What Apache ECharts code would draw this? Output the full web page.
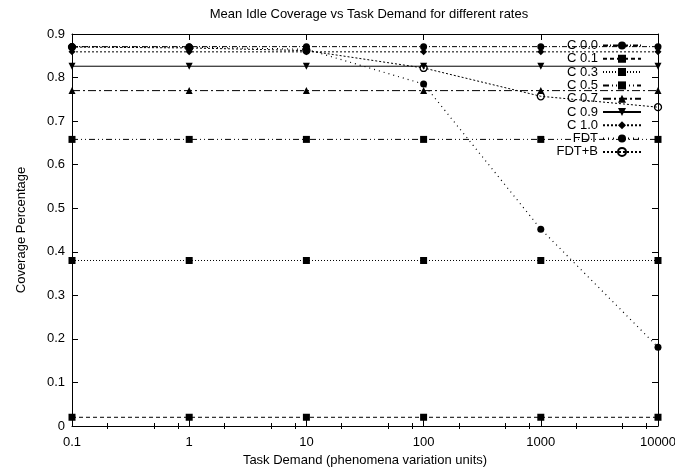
<!DOCTYPE html>
<html>
<head>
<meta charset="utf-8">
<script src="https://cdn.jsdelivr.net/npm/echarts@6/dist/echarts.min.js"></script>
<style>
  html, body { margin: 0; padding: 0; background: #fff; }
  #chart { width: 675px; height: 469px; }
</style>
</head>
<body>
<div id="chart"></div>
<script>
// Task demand values (phenomena variation units), log scale
const demand = [0.1, 1, 10, 100, 1000, 10000];

// Mean idle coverage per series
const c00 = [0.871, 0.871, 0.871, 0.871, 0.871, 0.871];
const c01 = [0.020, 0.020, 0.020, 0.020, 0.020, 0.020];
const c03 = [0.380, 0.380, 0.380, 0.380, 0.380, 0.380];
const c05 = [0.658, 0.658, 0.658, 0.658, 0.658, 0.658];
const c07 = [0.770, 0.770, 0.770, 0.770, 0.770, 0.770];
const c09 = [0.826, 0.826, 0.826, 0.826, 0.826, 0.826];
const c10 = [0.859, 0.859, 0.859, 0.859, 0.859, 0.859];
const fdt = [0.871, 0.870, 0.865, 0.785, 0.452, 0.181];
const fdtB = [0.870, 0.868, 0.862, 0.822, 0.757, 0.732];

const seriesNames = ['C 0.0', 'C 0.1', 'C 0.3', 'C 0.5', 'C 0.7', 'C 0.9', 'C 1.0', 'FDT', 'FDT+B'];
const yTicks = ['0', '0.1', '0.2', '0.3', '0.4', '0.5', '0.6', '0.7', '0.8', '0.9'];
// minor tick values inside each decade (2x, 5x, 8x)
const minorX = [0.2, 0.5, 0.8, 2, 5, 8, 20, 50, 80, 200, 500, 800, 2000, 5000, 8000];

const FONT = '"Liberation Sans", Arial, sans-serif';
const boxX = 'path://M0,0H10V10H0ZM1.5,0.5L5,4L8.5,0.5L9.5,1.5L6,5L9.5,8.5L8.5,9.5L5,6L1.5,9.5L0.5,8.5L4,5L0.5,1.5Z';

function pairs(vals) {
  return demand.map((d, i) => [d, vals[i]]);
}

function line(name, vals, dash, symbol, size, extra) {
  return Object.assign({
    name: name,
    type: 'line',
    data: pairs(vals),
    symbol: symbol,
    symbolSize: size,
    showSymbol: true,
    animation: false,
    lineStyle: { color: '#000', width: 1, type: dash },
    itemStyle: { color: '#000' }
  }, extra || {});
}

const series = [
  line('C 0.0', c00, [5, 2, 1, 2], 'circle', 7),
  line('C 0.1', c01, [4, 3], boxX, 7),
  line('C 0.3', c03, [1, 2], boxX, 7),
  line('C 0.5', c05, [6, 3, 1, 3, 1, 3], 'rect', 7),
  line('C 0.7', c07, [8, 3, 2, 3], 'triangle', 7),
  line('C 0.9', c09, 'solid', 'triangle', 7, { symbolRotate: 180 }),
  line('C 1.0', c10, [2, 2], 'diamond', 7),
  line('FDT', fdt, [1, 4], 'circle', 7, { lineStyle: { color: '#000', width: 1.2, type: [1, 4] } }),
  // open circles: outline only, so marks underneath stay visible
  line('FDT+B', fdtB, [2, 2], 'circle', 7,
    { itemStyle: { color: 'rgba(0,0,0,0)', borderColor: '#000', borderWidth: 1.3 } })
];

const axisLine = { show: true, onZero: false, lineStyle: { color: '#000', width: 1 } };
const axisTick = { show: true, inside: true, length: 6, lineStyle: { color: '#000' } };
const minorTick = {
  show: true, inside: true, length: 3, customValues: minorX,
  lineStyle: { color: '#000' }
};
const logBase = { type: 'log', logBase: 10, min: 0.1, max: 10000, splitLine: { show: false } };

const chart = echarts.init(document.getElementById('chart'), null, { renderer: 'canvas' });
chart.setOption({
  backgroundColor: '#fff',
  animation: false,
  title: {
    text: 'Mean Idle Coverage vs Task Demand for different rates',
    left: 364, top: 3, textAlign: 'center',
    textStyle: { fontFamily: FONT, fontSize: 13, fontWeight: 'normal', color: '#000' }
  },
  grid: { left: 72, right: 17, top: 34, bottom: 43, containLabel: false, outerBoundsMode: 'none' },
  legend: {
    orient: 'vertical',
    right: 28, top: 34,
    align: 'right',
    itemWidth: 38, itemHeight: 10, itemGap: 0.3,
    data: seriesNames,
    formatter: n => '{t|' + n + '}',
    textStyle: {
      fontFamily: FONT, fontSize: 13, color: '#000', lineHeight: 12,
      rich: { t: { width: 44, align: 'right', fontFamily: FONT, fontSize: 13, lineHeight: 12 } }
    }
  },
  xAxis: [
    Object.assign({}, logBase, {
      name: 'Task Demand (phenomena variation units)',
      nameLocation: 'middle', nameGap: 27,
      nameTextStyle: { fontFamily: FONT, fontSize: 13, color: '#000' },
      axisLine: axisLine, axisTick: axisTick,
      axisLabel: { fontFamily: FONT, fontSize: 13, color: '#000', margin: 10,
        formatter: v => String(v) }
    }),
    Object.assign({}, logBase, {
      position: 'top', axisLine: axisLine, axisTick: axisTick, axisLabel: { show: false }
    }),
    Object.assign({}, logBase, {
      position: 'bottom', axisLine: { show: false }, axisTick: minorTick, axisLabel: { show: false }
    }),
    Object.assign({}, logBase, {
      position: 'top', axisLine: { show: false }, axisTick: minorTick, axisLabel: { show: false }
    })
  ],
  yAxis: [
    {
      type: 'value', min: 0, max: 0.9, interval: 0.1,
      name: 'Coverage Percentage',
      nameLocation: 'middle', nameGap: 44,
      nameTextStyle: { fontFamily: FONT, fontSize: 13, color: '#000' },
      axisLine: axisLine, axisTick: axisTick,
      axisLabel: { fontFamily: FONT, fontSize: 13, color: '#000', margin: 7,
        formatter: (v) => yTicks[Math.round(v * 10)] },
      splitLine: { show: false }
    },
    {
      type: 'value', min: 0, max: 0.9, interval: 0.1, position: 'right',
      axisLine: axisLine, axisTick: axisTick,
      axisLabel: { show: false }, splitLine: { show: false }
    }
  ],
  series: series
});
</script>
</body>
</html>
